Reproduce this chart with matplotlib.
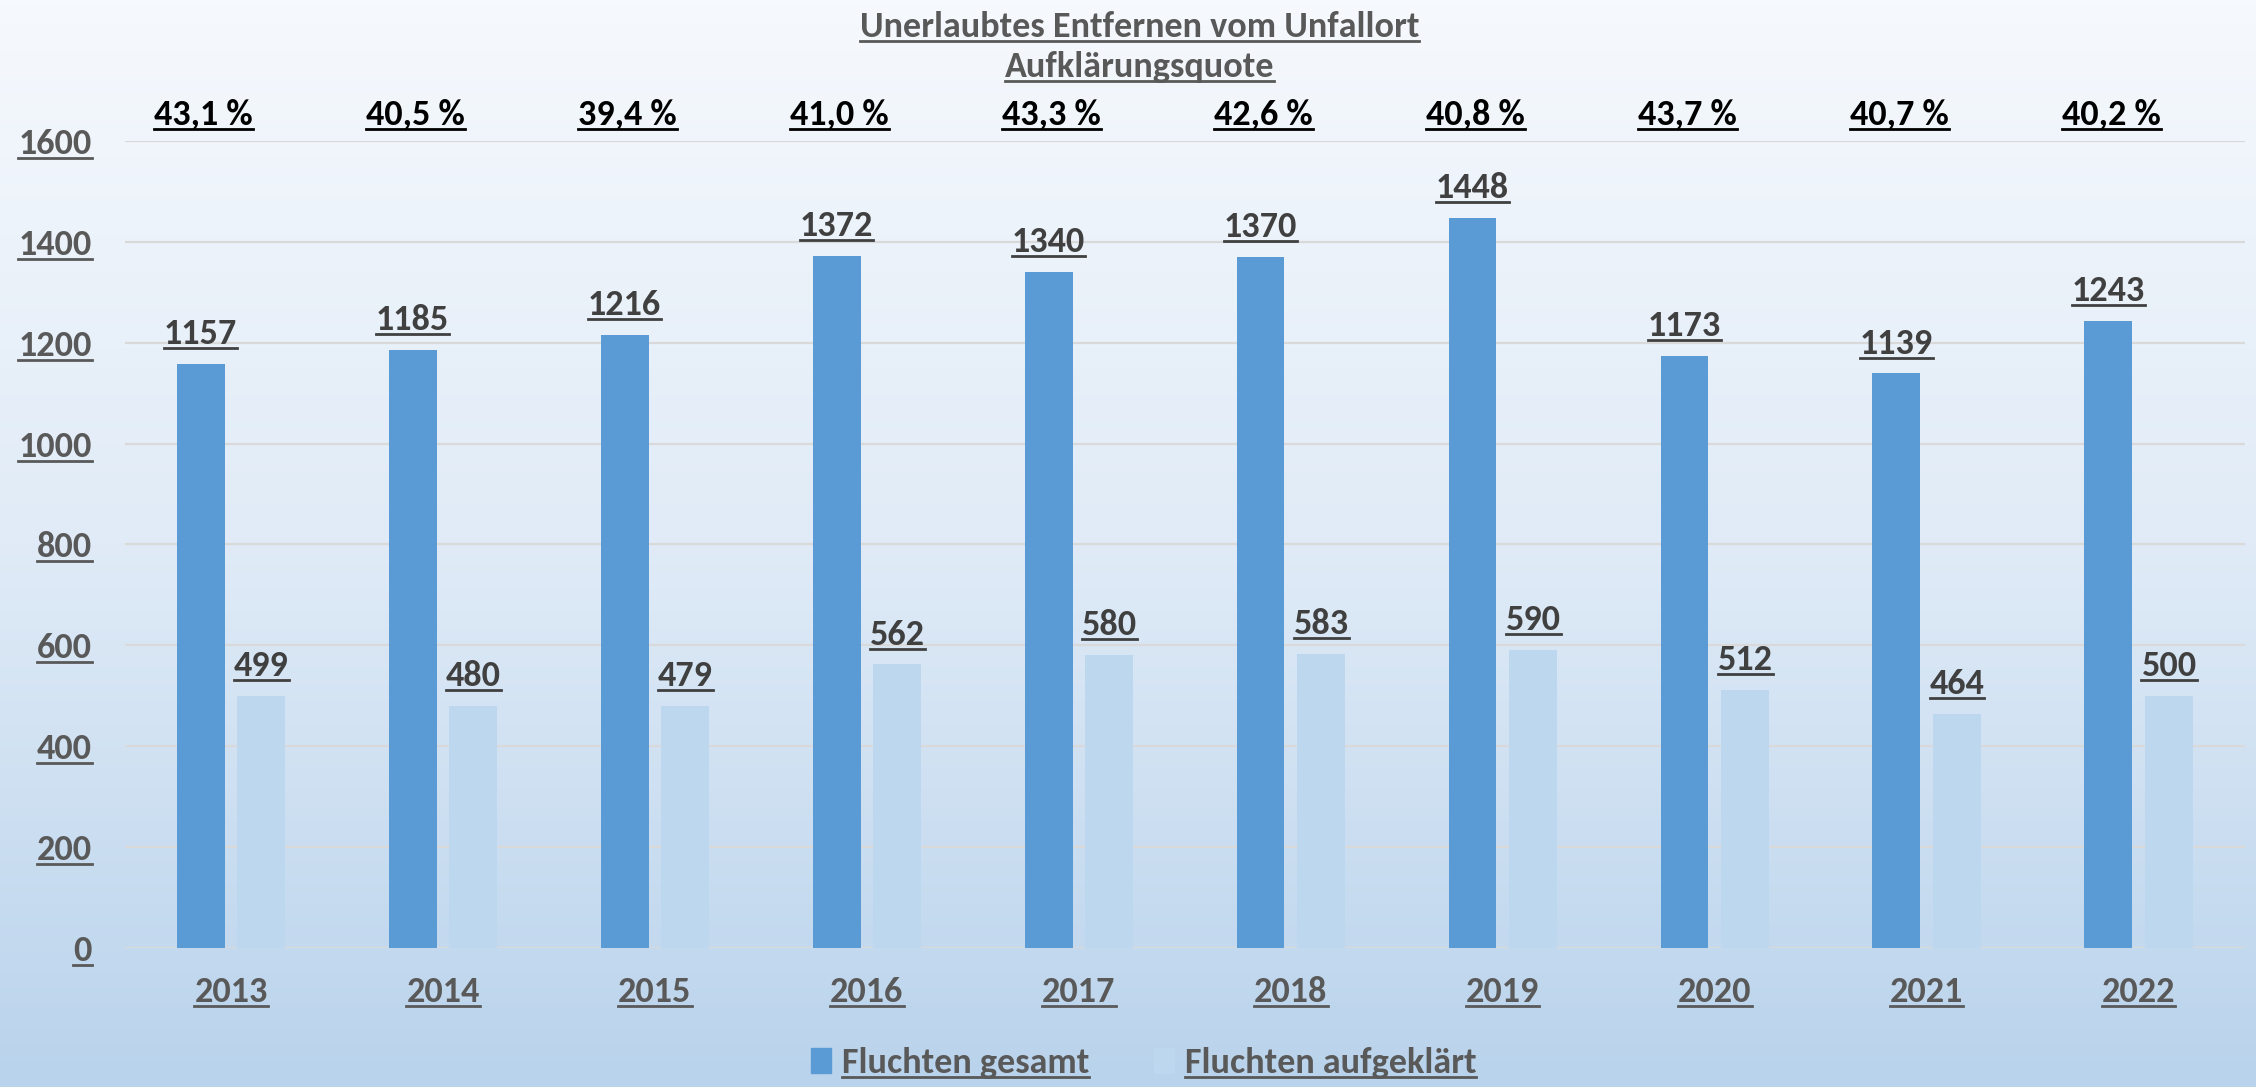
import matplotlib
matplotlib.use("Agg")
import matplotlib.pyplot as plt
import numpy as np
from matplotlib.lines import Line2D
from matplotlib.patches import Patch
from matplotlib.colors import LinearSegmentedColormap

years = ['2013', '2014', '2015', '2016', '2017', '2018', '2019', '2020', '2021', '2022']
gesamt = [1157, 1185, 1216, 1372, 1340, 1370, 1448, 1173, 1139, 1243]
aufgeklaert = [499, 480, 479, 562, 580, 583, 590, 512, 464, 500]
quote = ['43,1 %', '40,5 %', '39,4 %', '41,0 %', '43,3 %', '42,6 %', '40,8 %', '43,7 %', '40,7 %', '40,2 %']

plt.rcParams['font.family'] = ['Carlito', 'DejaVu Sans']
plt.rcParams['font.weight'] = 'bold'

dark = '#5B9BD5'
light = '#BDD7EE'
grey = '#595959'
fs = 26

fig = plt.figure(figsize=(22.56, 10.87), dpi=100)

# background gradient
bg = fig.add_axes([0, 0, 1, 1], zorder=-10)
cmap = LinearSegmentedColormap.from_list('bg', ['#F6F9FD', '#E0EBF7', '#B9D3EC'])
bg.imshow(np.linspace(0, 1, 256).reshape(-1, 1), aspect='auto', cmap=cmap,
          extent=[0, 1, 0, 1], origin='upper')
bg.axis('off')

ax = fig.add_axes([0.0554, 0.128, 0.9396, 0.7423])
ax.patch.set_alpha(0)
x = np.arange(len(years))
w = 0.226
b1 = ax.bar(x - 0.143, gesamt, w, color=dark, zorder=3)
b2 = ax.bar(x + 0.143, aufgeklaert, w, color=light, zorder=3)

ax.set_xlim(-0.5, len(years) - 0.5)
ax.set_ylim(0, 1600)
ax.set_yticks(range(0, 1601, 200))
ax.set_xticks(x)
ax.set_xticklabels(years)
ax.grid(axis='y', color='#D9D9D9', lw=1.6, zorder=0)
for s in ax.spines.values():
    s.set_visible(False)
ax.tick_params(length=0, labelsize=fs, labelcolor=grey)
ax.tick_params(axis='y', pad=24)
ax.tick_params(axis='x', pad=20)

texts = []
for bars, vals in ((b1, gesamt), (b2, aufgeklaert)):
    for r, v in zip(bars, vals):
        t = ax.annotate(str(v), (r.get_x() + r.get_width() / 2, v), xytext=(0, 10),
                        textcoords='offset points', ha='center', va='bottom',
                        fontsize=fs, color='#404040')
        texts.append(t)

for i, q in enumerate(quote):
    t = ax.text(i - 0.13, 1652, q, ha='center', va='center', fontsize=fs, color='black')
    texts.append(t)

t1 = fig.text(0.505, 0.975, 'Unerlaubtes Entfernen vom Unfallort', ha='center', va='center',
              fontsize=fs, color=grey)
t2 = fig.text(0.505, 0.938, 'Aufklärungsquote', ha='center', va='center',
              fontsize=fs, color=grey)
texts += [t1, t2]

handles = [Patch(color=dark), Patch(color=light)]
leg = fig.legend(handles, ['Fluchten gesamt', 'Fluchten aufgeklärt'], loc='center',
                 bbox_to_anchor=(0.507, 0.022), ncol=2, frameon=False, fontsize=fs,
                 handlelength=0.55, handleheight=0.7, handletextpad=0.3, columnspacing=1.8)
for t in leg.get_texts():
    t.set_color(grey)

fig.canvas.draw()
r = fig.canvas.get_renderer()
texts += list(ax.get_xticklabels()) + list(ax.get_yticklabels()) + list(leg.get_texts())
inv = fig.transFigure.inverted()
for t in texts:
    bb = t.get_window_extent(r)
    (x0, y0), (x1, _) = inv.transform([(bb.x0, bb.y0 + 2), (bb.x1, bb.y0 + 2)])
    fig.add_artist(Line2D([x0, x1], [y0, y0], color=t.get_color(), lw=2))

fig.savefig('out.png', dpi=100)
